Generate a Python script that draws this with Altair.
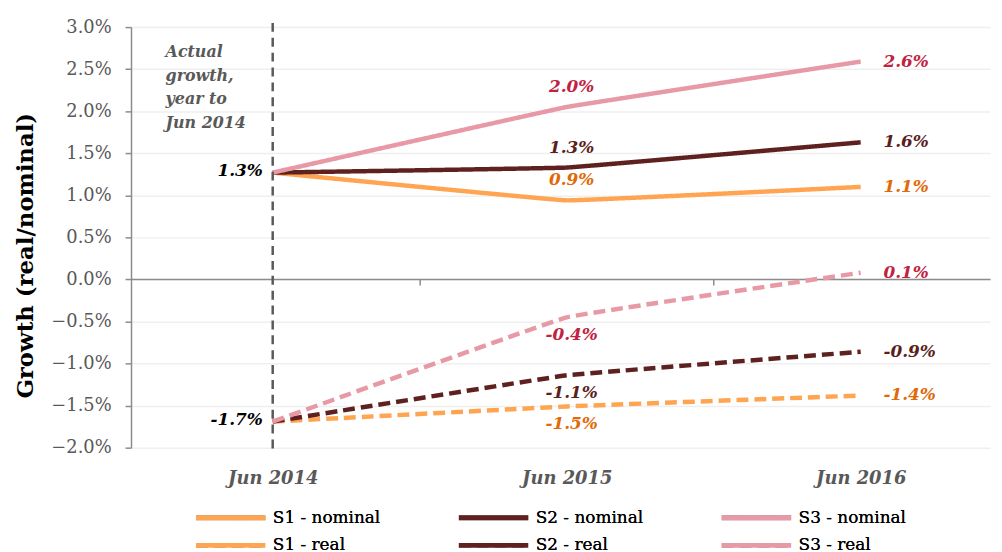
import altair as alt
import pandas as pd

# ---------------- data ----------------
periods = ["Jun 2014", "Jun 2015", "Jun 2016"]
period_pos = [0, 1, 2]
boundaries = [0.5, 1.5]

series_names = ["S1 - nominal", "S2 - nominal", "S3 - nominal",
                "S1 - real", "S2 - real", "S3 - real"]
s1_nominal = [1.27, 0.94, 1.10]
s2_nominal = [1.27, 1.33, 1.63]
s3_nominal = [1.27, 2.05, 2.59]
s1_real = [-1.69, -1.51, -1.38]
s2_real = [-1.69, -1.14, -0.86]
s3_real = [-1.69, -0.45, 0.08]

s1_nominal_lbl = ["1.3%", "0.9%", "1.1%"]
s2_nominal_lbl = ["1.3%", "1.3%", "1.6%"]
s3_nominal_lbl = ["1.3%", "2.0%", "2.6%"]
s1_real_lbl = ["-1.7%", "-1.5%", "-1.4%"]
s2_real_lbl = ["-1.7%", "-1.1%", "-0.9%"]
s3_real_lbl = ["-1.7%", "-0.4%", "0.1%"]

start_values = [1.27, -1.69]
start_labels = ["1.3%", "-1.7%"]

annotation_lines = ["Actual", "growth,", "year to", "Jun 2014"]
y_title = "Growth (real/nominal)"
y_ticks = [-2.0, -1.5, -1.0, -0.5, 0.0, 0.5, 1.0, 1.5, 2.0, 2.5, 3.0]

# ---------------- styles ----------------
FONT = "Georgia, 'DejaVu Serif', serif"
color_map = {"S1": "#FFA552", "S2": "#5E2120", "S3": "#E899A6"}
label_colors = {"S1": "#E06A08", "S2": "#5B1F1E", "S3": "#C0223F"}
GRAY = "#595959"
AXIS_GRAY = "#8C8C8C"

# legend order (Vega fills legend columns top-to-bottom)
legend_order = ["S1 - nominal", "S1 - real", "S2 - nominal", "S2 - real",
                "S3 - nominal", "S3 - real"]
line_colors = [color_map[s[:2]] for s in legend_order]
dashes = [[1, 0] if "nominal" in s else [12, 6] for s in legend_order]

all_values = [s1_nominal, s2_nominal, s3_nominal, s1_real, s2_real, s3_real]
all_labels = [s1_nominal_lbl, s2_nominal_lbl, s3_nominal_lbl,
              s1_real_lbl, s2_real_lbl, s3_real_lbl]

rows = []
for name, vals, lbls in zip(series_names, all_values, all_labels):
    for p, v, l in zip(period_pos, vals, lbls):
        rows.append({"series": name, "pos": p, "value": v, "label": l,
                     "kind": "nominal" if "nominal" in name else "real",
                     "lcolor": label_colors[name[:2]]})
df = pd.DataFrame(rows)

start_df = pd.DataFrame({"pos": [0, 0], "value": start_values, "label": start_labels})
bound_df = pd.DataFrame({"pos": boundaries, "value": [0.0] * len(boundaries)})

label_expr = "[" + ",".join("'%s'" % p for p in periods) + "][datum.value]"

x_scale = alt.Scale(domain=[-0.482, 2.44], nice=False, zero=False)
y_scale = alt.Scale(domain=[-2.0, 3.0], nice=False, zero=False)

X0 = alt.X("pos:Q", scale=x_scale, axis=None)
Y0 = alt.Y("value:Q", scale=y_scale, axis=None)

legend = alt.Legend(
    orient="none", legendX=89, legendY=483, columns=3, title=None,
    symbolType="M-4,0H4", symbolSize=306, symbolStrokeWidth=5,
    labelFont=FONT, labelFontSize=17, labelColor="#000000",
    columnPadding=68, rowPadding=6, labelOffset=31, labelLimit=200,
)

base = alt.Chart(df)

lines = base.mark_line(strokeWidth=4.5, interpolate="cardinal", tension=0.85,
                       strokeCap="butt").encode(
    x=alt.X("pos:Q", scale=x_scale, axis=alt.Axis(
        orient="bottom", values=period_pos, labelExpr=label_expr, grid=False,
        domain=False, ticks=False,
        labelPadding=22, labelFont=FONT, labelFontSize=18, labelFontStyle="italic",
        labelFontWeight="bold", labelColor=GRAY, title=None)),
    y=alt.Y("value:Q", scale=y_scale, axis=alt.Axis(
        orient="left", values=y_ticks, labelExpr="format(datum.value, '.1f') + '%'",
        grid=True, gridColor="#EFEFEF", gridWidth=1.5,
        domainColor=AXIS_GRAY, domainWidth=1.5, tickColor=AXIS_GRAY, tickWidth=1.5,
        tickSize=6, labelPadding=14, labelFont=FONT, labelFontSize=18, labelColor=GRAY,
        title=y_title, titleFont=FONT, titleFontSize=23, titleFontWeight="bold",
        titleColor="#000000", titleX=-106, titleY=230, titleBaseline="middle")),
    color=alt.Color("series:N", scale=alt.Scale(domain=legend_order, range=line_colors),
                    legend=legend),
    strokeDash=alt.StrokeDash("series:N", scale=alt.Scale(domain=legend_order, range=dashes),
                              legend=legend),
    detail="series:N",
)

zero_axis = alt.Chart(bound_df).mark_point(opacity=0).encode(
    x=alt.X("pos:Q", scale=x_scale, axis=alt.Axis(
        orient="top", offset=-254, values=boundaries, labels=False, grid=False,
        domain=True, domainColor=AXIS_GRAY, domainWidth=1.5, ticks=False,
        title=None)),
    y=Y0,
)
zero_ticks = alt.Chart(bound_df).mark_point(opacity=0).encode(
    x=alt.X("pos:Q", scale=x_scale, axis=alt.Axis(
        orient="bottom", offset=-170, values=boundaries, labels=False, grid=False,
        domain=False, ticks=True, tickColor=AXIS_GRAY, tickWidth=1.5, tickSize=6,
        title=None)),
    y=Y0,
)

vrule = alt.Chart(start_df.head(1)).mark_rule(
    color=GRAY, strokeWidth=2.5, strokeDash=[9, 6]).encode(
    x=X0, y=alt.YDatum(3.05, scale=y_scale, axis=None), y2=alt.Y2Datum(-2.03))

annotation = alt.Chart(start_df.head(1)).mark_text(
    text=annotation_lines, align="left", baseline="top", dx=-108, dy=17, lineHeight=24,
    font=FONT, fontSize=16, fontStyle="italic", fontWeight="bold", color=GRAY).encode(
    x=X0, y=alt.YDatum(3.0, scale=y_scale, axis=None))

start_text = alt.Chart(start_df).mark_text(
    align="right", baseline="middle", dx=-10, dy=-2, font=FONT, fontSize=17,
    fontStyle="italic", fontWeight="bold", color="#000000").encode(
    x=X0, y=Y0, text="label:N")

lbl_color = alt.Color("lcolor:N", scale=None)
text_style = dict(font=FONT, fontSize=17, fontStyle="italic", fontWeight="bold")

mid_nom = base.transform_filter("datum.pos == 1 && datum.kind == 'nominal'").mark_text(
    align="center", baseline="middle", dx=5, dy=-20, **text_style).encode(
    x=X0, y=Y0, text="label:N", color=lbl_color)
mid_real = base.transform_filter("datum.pos == 1 && datum.kind == 'real'").mark_text(
    align="center", baseline="middle", dx=5, dy=18, **text_style).encode(
    x=X0, y=Y0, text="label:N", color=lbl_color)
end_lbl = base.transform_filter("datum.pos == 2").mark_text(
    align="left", baseline="middle", dx=23, dy=0, **text_style).encode(
    x=X0, y=Y0, text="label:N", color=lbl_color)

chart = alt.layer(
    lines, zero_axis, zero_ticks, vrule, annotation, start_text, mid_nom, mid_real, end_lbl
).resolve_scale(color="independent").resolve_axis(
    x="independent", y="independent"
).properties(
    width=866, height=424,
    autosize=alt.AutoSizeParams(type="none"),
    padding={"left": 124, "top": 17, "right": 4, "bottom": 111},
    background="white",
).configure_view(stroke=None)

chart.save("out.html", embed_options={"renderer": "svg", "actions": False})
